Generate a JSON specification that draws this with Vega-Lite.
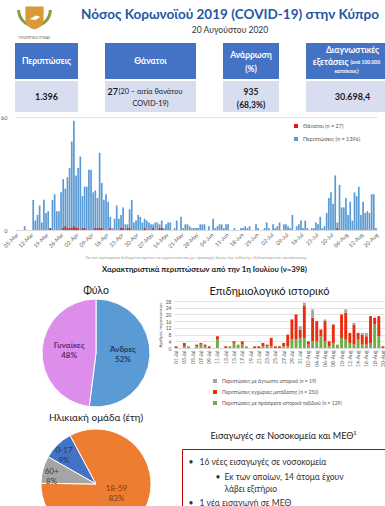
{
"$schema":"https://vega.github.io/schema/vega-lite/v6.json",
"padding":0,
"background":"white",
"config":{"view":{"stroke":null},"font":"Lato","axis":{"labelFont":"Lato","titleFont":"Lato"},"legend":{"labelFont":"Lato"},"title":{"font":"Lato"}},
"data":{"values":[{"k":1}]},
"datasets":{
"daily":[
{"d":"05-Mar","c":0},{"d":"06-Mar","c":0},{"d":"07-Mar","c":0},{"d":"08-Mar","c":0},{"d":"09-Mar","c":2},{"d":"10-Mar","c":0},{"d":"11-Mar","c":0},{"d":"12-Mar","c":0},{"d":"13-Mar","c":16},{"d":"14-Mar","c":5},{"d":"15-Mar","c":8},{"d":"16-Mar","c":13},{"d":"17-Mar","c":4},{"d":"18-Mar","c":16},{"d":"19-Mar","c":9},{"d":"20-Mar","c":10},{"d":"21-Mar","c":1,"t":1},{"d":"22-Mar","c":16},{"d":"23-Mar","c":19},{"d":"24-Mar","c":10},{"d":"25-Mar","c":10},{"d":"26-Mar","c":20},{"d":"27-Mar","c":27,"t":1},{"d":"28-Mar","c":22,"t":2},{"d":"29-Mar","c":28,"t":1},{"d":"30-Mar","c":33,"t":1},{"d":"31-Mar","c":47,"t":1},
{"d":"01-Apr","c":58,"t":2},{"d":"02-Apr","c":29,"t":1},{"d":"03-Apr","c":33,"t":1},{"d":"04-Apr","c":39},{"d":"05-Apr","c":18,"t":1},{"d":"06-Apr","c":23,"t":1},{"d":"07-Apr","c":23},{"d":"08-Apr","c":32},{"d":"09-Apr","c":32},{"d":"10-Apr","c":20},{"d":"11-Apr","c":21,"t":1},{"d":"12-Apr","c":17,"t":1},{"d":"13-Apr","c":41,"t":1},{"d":"14-Apr","c":25,"t":1},{"d":"15-Apr","c":16},{"d":"16-Apr","c":19},{"d":"17-Apr","c":15},{"d":"18-Apr","c":7,"t":1},{"d":"19-Apr","c":1},{"d":"20-Apr","c":6},{"d":"21-Apr","c":13},{"d":"22-Apr","c":6},{"d":"23-Apr","c":8,"t":1},{"d":"24-Apr","c":12,"t":1},{"d":"25-Apr","c":3},{"d":"26-Apr","c":3,"t":1},{"d":"27-Apr","c":11,"t":1},{"d":"28-Apr","c":16},{"d":"29-Apr","c":4},{"d":"30-Apr","c":5},
{"d":"01-May","c":8},{"d":"02-May","c":7},{"d":"03-May","c":4},{"d":"04-May","c":6,"t":1},{"d":"05-May","c":5},{"d":"06-May","c":4},{"d":"07-May","c":3},{"d":"08-May","c":3,"t":1},{"d":"09-May","c":4},{"d":"10-May","c":4},{"d":"11-May","c":3,"t":1},{"d":"12-May","c":5,"t":1},{"d":"13-May","c":1},{"d":"14-May","c":3},{"d":"15-May","c":4},{"d":"16-May","c":4},{"d":"17-May","c":0},{"d":"18-May","c":1},{"d":"19-May","c":5},{"d":"20-May","c":0},{"d":"21-May","c":7},{"d":"22-May","c":1},{"d":"23-May","c":3},{"d":"24-May","c":3},{"d":"25-May","c":2},{"d":"26-May","c":1},{"d":"27-May","c":1},{"d":"28-May","c":1},{"d":"29-May","c":1},{"d":"30-May","c":3},{"d":"31-May","c":3},
{"d":"01-Jun","c":3},{"d":"02-Jun","c":0},{"d":"03-Jun","c":2},{"d":"04-Jun","c":0},{"d":"05-Jun","c":6},{"d":"06-Jun","c":1},{"d":"07-Jun","c":2},{"d":"08-Jun","c":3},{"d":"09-Jun","c":3},{"d":"10-Jun","c":1},{"d":"11-Jun","c":3},{"d":"12-Jun","c":3},{"d":"13-Jun","c":0},{"d":"14-Jun","c":0},{"d":"15-Jun","c":1},{"d":"16-Jun","c":0},{"d":"17-Jun","c":0},{"d":"18-Jun","c":1},{"d":"19-Jun","c":1},{"d":"20-Jun","c":2},{"d":"21-Jun","c":1},{"d":"22-Jun","c":2},{"d":"23-Jun","c":0},{"d":"24-Jun","c":0},{"d":"25-Jun","c":3},{"d":"26-Jun","c":1},{"d":"27-Jun","c":0},{"d":"28-Jun","c":0},{"d":"29-Jun","c":1},{"d":"30-Jun","c":4},
{"d":"01-Jul","c":1},{"d":"02-Jul","c":0},{"d":"03-Jul","c":3},{"d":"04-Jul","c":1},{"d":"05-Jul","c":2},{"d":"06-Jul","c":4},{"d":"07-Jul","c":0},{"d":"08-Jul","c":3},{"d":"09-Jul","c":3},{"d":"10-Jul","c":2},{"d":"11-Jul","c":1},{"d":"12-Jul","c":8},{"d":"13-Jul","c":0},{"d":"14-Jul","c":2},{"d":"15-Jul","c":3},{"d":"16-Jul","c":5},{"d":"17-Jul","c":1},{"d":"18-Jul","c":5},{"d":"19-Jul","c":1},{"d":"20-Jul","c":0},{"d":"21-Jul","c":1},{"d":"22-Jul","c":1},{"d":"23-Jul","c":4},{"d":"24-Jul","c":3},{"d":"25-Jul","c":7},{"d":"26-Jul","c":1},{"d":"27-Jul","c":2},{"d":"28-Jul","c":9},{"d":"29-Jul","c":17},{"d":"30-Jul","c":20},{"d":"31-Jul","c":14},
{"d":"01-Aug","c":29},{"d":"02-Aug","c":4,"t":1},{"d":"03-Aug","c":24},{"d":"04-Aug","c":12},{"d":"05-Aug","c":12},{"d":"06-Aug","c":17},{"d":"07-Aug","c":8},{"d":"08-Aug","c":15},{"d":"09-Aug","c":5},{"d":"10-Aug","c":20},{"d":"11-Aug","c":18},{"d":"12-Aug","c":23},{"d":"13-Aug","c":8},{"d":"14-Aug","c":15},{"d":"15-Aug","c":9},{"d":"16-Aug","c":10},{"d":"17-Aug","c":9},{"d":"18-Aug","c":19},{"d":"19-Aug","c":19},{"d":"20-Aug","c":1}
],
"epi":[
{"d":"01-Jul","g":0,"r":1,"u":0},{"d":"02-Jul","g":0,"r":0,"u":0},{"d":"03-Jul","g":1,"r":2,"u":0},{"d":"04-Jul","g":1,"r":0,"u":0},{"d":"05-Jul","g":0,"r":0,"u":0},{"d":"06-Jul","g":1,"r":1,"u":0},{"d":"07-Jul","g":2,"r":1,"u":0},{"d":"08-Jul","g":1,"r":1,"u":0},{"d":"09-Jul","g":0,"r":1,"u":0},{"d":"10-Jul","g":0,"r":0,"u":0},
{"d":"11-Jul","g":5,"r":2,"u":0},{"d":"12-Jul","g":0,"r":0,"u":0},{"d":"13-Jul","g":0,"r":1,"u":0},{"d":"14-Jul","g":1,"r":0,"u":0},{"d":"15-Jul","g":3,"r":1,"u":0},{"d":"16-Jul","g":2,"r":0,"u":0},{"d":"17-Jul","g":2,"r":2,"u":0},{"d":"18-Jul","g":1,"r":0,"u":0},{"d":"19-Jul","g":0,"r":0,"u":0},{"d":"20-Jul","g":0,"r":1,"u":0},
{"d":"21-Jul","g":0,"r":1,"u":0},{"d":"22-Jul","g":1,"r":2,"u":0},{"d":"23-Jul","g":1,"r":1,"u":0},{"d":"24-Jul","g":1,"r":5,"u":0},{"d":"25-Jul","g":0,"r":1,"u":0},{"d":"26-Jul","g":0,"r":1,"u":0},{"d":"27-Jul","g":1,"r":2,"u":0},{"d":"28-Jul","g":1,"r":7,"u":0},{"d":"29-Jul","g":5,"r":12,"u":0},{"d":"30-Jul","g":5,"r":15,"u":0},
{"d":"31-Jul","g":6,"r":5,"u":2},{"d":"01-Aug","g":6,"r":19,"u":2},{"d":"02-Aug","g":2,"r":2,"u":0},{"d":"03-Aug","g":4,"r":14,"u":5},{"d":"04-Aug","g":4,"r":12,"u":0},{"d":"05-Aug","g":7,"r":4,"u":0},{"d":"06-Aug","g":4,"r":12,"u":1},{"d":"07-Aug","g":1,"r":3,"u":0},{"d":"08-Aug","g":3,"r":11,"u":0},{"d":"09-Aug","g":2,"r":0,"u":0},
{"d":"10-Aug","g":6,"r":14,"u":0},{"d":"11-Aug","g":5,"r":16,"u":2},{"d":"12-Aug","g":3,"r":6,"u":0},{"d":"13-Aug","g":2,"r":12,"u":1},{"d":"14-Aug","g":5,"r":4,"u":0},{"d":"15-Aug","g":2,"r":6,"u":1},{"d":"16-Aug","g":2,"r":5,"u":2},{"d":"17-Aug","g":3,"r":16,"u":0},{"d":"18-Aug","g":14,"r":4,"u":0},{"d":"19-Aug","g":7,"r":12,"u":0},
{"d":"20-Aug","g":0,"r":1,"u":0}
],
"sex":[{"g":"Άνδρες","p":52,"lab":"Άνδρες\n52%"},{"g":"Γυναίκες","p":48,"lab":"Γυναίκες\n48%"}],
"age":[{"g":"0-17","p":9,"lab":"0-17\n9%"},{"g":"18-59","p":83,"lab":"18-59\n83%"},{"g":"60+","p":8,"lab":"60+\n8%"}]
},
"spacing":3,
"resolve":{"scale":{"color":"independent"},"legend":{"color":"independent"}},
"vconcat":[
{"hconcat":[
 {"width":39,"height":36,
  "title":{"text":"ΥΠΟΥΡΓΕΙΟ ΥΓΕΙΑΣ","orient":"bottom","fontSize":3.5,"fontWeight":"normal","color":"#555555","offset":0},
  "layer":[
   {"mark":{"type":"point","shape":"M -1 -0.5 A 1 1 0 0 0 1 -0.5","filled":false,"stroke":"#8A9A3C","strokeWidth":3,"size":1000,"opacity":1},"encoding":{}},
   {"mark":{"type":"point","shape":"M -0.8 -1 L 0.8 -1 L 0.8 0.1 Q 0.8 0.8 0 1 Q -0.8 0.8 -0.8 0.1 Z","filled":true,"color":"#D99A3A","size":520,"opacity":1},"encoding":{}},
   {"mark":{"type":"point","shape":"M -0.8 0.2 L 0.2 -0.4 L 0.9 -0.2 L 0.2 0.3 Z","filled":true,"color":"white","size":160,"opacity":1},"encoding":{}}
  ]},
 {"width":344,"height":40,
  "layer":[
   {"mark":{"type":"text","text":"Νόσος Κορωνοϊού 2019 (COVID-19) στην Κύπρο","fontSize":13.5,"fontWeight":"bold","color":"#2157A5","dy":-5},"encoding":{}},
   {"mark":{"type":"text","text":"20 Αυγούστου 2020","fontSize":8.5,"color":"#333333","dy":10},"encoding":{}}
  ]}
],"spacing":1},
{"hconcat":[
 {"vconcat":[
  {"width":63,"height":36,"view":{"fill":"#4472C4","stroke":null},"mark":{"type":"text","text":"Περιπτώσεις","color":"white","fontWeight":"bold","fontSize":8.5},"encoding":{}},
  {"width":63,"height":31,"view":{"fill":"#D9DDF0","stroke":null},"mark":{"type":"text","text":"1.396","color":"#1a1a1a","fontWeight":"bold","fontSize":9},"encoding":{}}
 ],"spacing":2},
 {"vconcat":[
  {"width":91,"height":36,"view":{"fill":"#4472C4","stroke":null},"mark":{"type":"text","text":"Θάνατοι","color":"white","fontWeight":"bold","fontSize":8.5},"encoding":{}},
  {"width":91,"height":31,"view":{"fill":"#D9DDF0","stroke":null},"layer":[
   {"mark":{"type":"text","text":"27","color":"#1a1a1a","fontWeight":"bold","fontSize":9,"align":"left","dx":-43,"dy":-4.5},"encoding":{}},
   {"mark":{"type":"text","text":"(20 – αιτία θανάτου","color":"#1a1a1a","fontSize":7.3,"align":"left","dx":-32,"dy":-4.5},"encoding":{}},
   {"mark":{"type":"text","text":"COVID-19)","color":"#1a1a1a","fontSize":7.3,"dy":7},"encoding":{}}
  ]}
 ],"spacing":2},
 {"vconcat":[
  {"width":56,"height":36,"view":{"fill":"#4472C4","stroke":null},"layer":[
   {"mark":{"type":"text","text":"Ανάρρωση","color":"white","fontWeight":"bold","fontSize":8.5,"dy":-6},"encoding":{}},
   {"mark":{"type":"text","text":"(%)","color":"white","fontWeight":"bold","fontSize":8.5,"dy":7.5},"encoding":{}}
  ]},
  {"width":56,"height":31,"view":{"fill":"#D9DDF0","stroke":null},"layer":[
   {"mark":{"type":"text","text":"935","color":"#1a1a1a","fontWeight":"bold","fontSize":8.5,"dy":-5},"encoding":{}},
   {"mark":{"type":"text","text":"(68,3%)","color":"#1a1a1a","fontWeight":"bold","fontSize":8.5,"dy":8.5},"encoding":{}}
  ]}
 ],"spacing":2},
 {"vconcat":[
  {"width":93,"height":36,"view":{"fill":"#4472C4","stroke":null},"layer":[
   {"mark":{"type":"text","text":"Διαγνωστικές","color":"white","fontWeight":"bold","fontSize":8.5,"dy":-11},"encoding":{}},
   {"mark":{"type":"text","text":"εξετάσεις","color":"white","fontWeight":"bold","fontSize":8.5,"align":"right","dx":-4,"dy":1},"encoding":{}},
   {"mark":{"type":"text","text":"(ανά 100.000","color":"white","fontWeight":"bold","fontSize":5,"align":"left","dx":-2,"dy":1},"encoding":{}},
   {"mark":{"type":"text","text":"κατοίκους)","color":"white","fontWeight":"bold","fontSize":5,"dx":-6,"dy":10},"encoding":{}}
  ]},
  {"width":93,"height":31,"view":{"fill":"#D9DDF0","stroke":null},"mark":{"type":"text","text":"30.698,4","color":"#1a1a1a","fontWeight":"bold","fontSize":9},"encoding":{}}
 ],"spacing":2}
],"spacing":27},
{"width":362,"height":113,
 "data":{"name":"daily"},
 "title":{"text":"Τα πιο πρόσφατα δεδομένα πρέπει να ερμηνεύονται με προσοχή λόγω της πιθανής εξελισσόμενης κατάστασης","orient":"bottom","fontSize":4.5,"fontWeight":"normal","color":"#A0A0A0","offset":6,"anchor":"middle"},
 "encoding":{"x":{"field":"d","type":"ordinal","sort":null,"scale":{"paddingInner":0.2,"paddingOuter":0.1},
   "axis":{"values":["05-Mar","12-Mar","19-Mar","26-Mar","02-Apr","09-Apr","16-Apr","23-Apr","30-Apr","07-May","14-May","21-May","28-May","04-Jun","11-Jun","18-Jun","25-Jun","02-Jul","09-Jul","16-Jul","23-Jul","30-Jul","06-Aug","13-Aug","20-Aug"],
   "labelAngle":-45,"labelFontSize":5.5,"labelColor":"#595959","domainColor":"#D9D9D9","ticks":false,"title":null,"labelPadding":2}}},
 "layer":[
  {"mark":{"type":"bar"},
   "encoding":{"y":{"field":"c","type":"quantitative","scale":{"domain":[0,60]},
      "axis":{"values":[0,10,20,30,40,50,60],"gridColor":"#E4E4E4","domain":false,"ticks":false,"labelFontSize":5.5,"labelColor":"#595959","title":null,"labelPadding":8}},
    "color":{"datum":"Περιπτώσεις (n = 1396)","scale":{"domain":["Θάνατοι (n = 27)","Περιπτώσεις (n = 1396)"],"range":["#E01818","#5B9BD5"]},
      "legend":{"orient":"none","legendX":278,"legendY":6,"title":null,"symbolType":"square","symbolSize":16,"labelFontSize":5.5,"labelColor":"#595959","rowPadding":6}}}},
  {"mark":{"type":"bar"},
   "encoding":{"y":{"field":"t","type":"quantitative"},"color":{"datum":"Θάνατοι (n = 27)"}}}
 ]},
{"width":385,"height":19,"mark":{"type":"text","text":"Χαρακτηριστικά περιπτώσεων από την 1η Ιουλίου (ν=398)","fontSize":7.8,"fontWeight":"bold","color":"#1a1a1a","dx":-3,"dy":-2.5},"encoding":{}},
{"spacing":1,
 "resolve":{"scale":{"color":"independent"},"legend":{"color":"independent"}},
 "hconcat":[
  {"width":20,"height":1,"mark":{"type":"rect","opacity":0},"encoding":{}},
  {"vconcat":[
    {"width":120,"height":104,"data":{"name":"sex"},
     "title":{"text":"Φύλο","fontSize":10.5,"fontWeight":"normal","color":"#1a1a1a","offset":1},
     "layer":[
      {"mark":{"type":"arc","outerRadius":54,"stroke":"white","strokeWidth":1},
       "encoding":{"theta":{"field":"p","type":"quantitative","stack":true},"order":{"field":"p","sort":"descending"},
        "color":{"field":"g","type":"nominal","scale":{"domain":["Άνδρες","Γυναίκες"],"range":["#5B9BD5","#DD8EEB"]},"legend":null}}},
      {"mark":{"type":"text","radius":27,"fontWeight":"bold","fontSize":8,"lineBreak":"\n","dy":-5},
       "encoding":{"theta":{"field":"p","type":"quantitative","stack":true},"order":{"field":"p","sort":"descending"},"text":{"field":"lab"},
        "color":{"field":"g","type":"nominal","scale":{"domain":["Άνδρες","Γυναίκες"],"range":["#1F3864","#5E2A6B"]},"legend":null}}}
     ],
     "resolve":{"scale":{"color":"independent"}}},
    {"width":120,"height":120,"data":{"name":"age"},
     "title":{"text":"Ηλικιακή ομάδα (έτη)","fontSize":10,"fontWeight":"normal","color":"#1a1a1a","offset":1},
     "layer":[
      {"mark":{"type":"arc","outerRadius":55,"stroke":"white","strokeWidth":1},
       "encoding":{"theta":{"field":"p","type":"quantitative","stack":true,"scale":{"range":[-1.557,4.726]}},"order":{"field":"p","sort":"ascending"},
        "color":{"field":"g","type":"nominal","scale":{"domain":["0-17","18-59","60+"],"range":["#4472C4","#ED7D31","#A5A5A5"]},"legend":null}}},
      {"mark":{"type":"text","radius":{"expr":"datum.g == '18-59' ? 24 : 46"},"dy":{"expr":"datum.g == '18-59' ? -7 : 0"},"fontSize":8,"lineBreak":"\n"},
       "encoding":{"theta":{"field":"p","type":"quantitative","stack":true},"order":{"field":"p","sort":"ascending"},"text":{"field":"lab"},
        "color":{"field":"g","type":"nominal","scale":{"domain":["0-17","18-59","60+"],"range":["#1F3864","#7F3A10","#3A3A3A"]},"legend":null}}}
     ],
     "resolve":{"scale":{"color":"independent"}}}
  ],"spacing":4},
  {"vconcat":[
    {"width":211,"height":47,"data":{"name":"epi"},
     "title":{"text":"Επιδημιολογικό ιστορικό","fontSize":11,"fontWeight":"normal","color":"#1a1a1a","offset":2,"dx":-10},
     "transform":[{"fold":["g","r","u"],"as":["s","n"]}],
     "mark":{"type":"bar"},
     "encoding":{
      "x":{"field":"d","type":"ordinal","sort":null,"scale":{"paddingInner":0.3,"paddingOuter":0.15},
        "axis":{"values":["01-Jul","03-Jul","05-Jul","07-Jul","09-Jul","11-Jul","13-Jul","15-Jul","17-Jul","19-Jul","21-Jul","23-Jul","25-Jul","27-Jul","29-Jul","31-Jul","02-Aug","04-Aug","06-Aug","08-Aug","10-Aug","12-Aug","14-Aug","16-Aug","18-Aug","20-Aug"],
        "labelAngle":-90,"labelFontSize":5,"labelColor":"#595959","domainColor":"#D9D9D9","ticks":false,"title":null,"labelPadding":2}},
      "y":{"field":"n","type":"quantitative","stack":true,"scale":{"domain":[0,28]},
        "axis":{"values":[0,4,8,12,16,20,24,28],"gridColor":"#E4E4E4","domain":false,"ticks":false,"labelFontSize":5,"labelColor":"#595959","title":"Αριθμός περιπτώσεων","titleFontSize":4.5,"titleFontWeight":"normal","titleColor":"#595959","titlePadding":3,"labelPadding":3}},
      "order":{"field":"s","sort":"ascending"},
      "color":{"field":"s","type":"nominal","scale":{"domain":["u","r","g"],"range":["#A5A5A5","#EE2A0C","#70AD47"]},
        "legend":{"orient":"none","legendX":38,"legendY":77,"direction":"vertical","title":null,"symbolType":"square","symbolSize":16,"labelFontSize":5,"labelColor":"#595959","rowPadding":5,
          "labelExpr":"datum.value == 'u' ? 'Περιπτώσεις με άγνωστο ιστορικό (n = 19)' : datum.value == 'r' ? 'Περιπτώσεις εγχώριας μετάδοσης (n = 250)' : 'Περιπτώσεις με πρόσφατο ιστορικό ταξιδιού (n = 129)'"}}}},
    {"hconcat":[
      {"width":6,"height":1,"mark":{"type":"rect","opacity":0},"encoding":{}},
      {"width":203,"height":62,"view":{"stroke":"#C00000","strokeWidth":1,"fill":"white"},
       "title":{"text":"Εισαγωγές σε Νοσοκομεία και ΜΕΘ¹","fontSize":9,"fontWeight":"normal","color":"#1a1a1a","offset":8},
       "layer":[
        {"mark":{"type":"text","text":"•","fontSize":8.5,"color":"#333333","align":"left","dx":-95,"dy":-18},"encoding":{}},
        {"mark":{"type":"text","text":"16 νέες εισαγωγές σε νοσοκομεία","fontSize":8.5,"color":"#333333","align":"left","dx":-84,"dy":-18},"encoding":{}},
        {"mark":{"type":"text","text":"•","fontSize":8.5,"color":"#333333","align":"left","dx":-68,"dy":-3},"encoding":{}},
        {"mark":{"type":"text","text":"Εκ των οποίων, 14 άτομα έχουν","fontSize":8.5,"color":"#333333","align":"left","dx":-59,"dy":-3},"encoding":{}},
        {"mark":{"type":"text","text":"λάβει εξιτήριο","fontSize":8.5,"color":"#333333","align":"left","dx":-59,"dy":9},"encoding":{}},
        {"mark":{"type":"text","text":"•","fontSize":8.5,"color":"#333333","align":"left","dx":-95,"dy":23},"encoding":{}},
        {"mark":{"type":"text","text":"1 νέα εισαγωγή σε ΜΕΘ","fontSize":8.5,"color":"#333333","align":"left","dx":-84,"dy":23},"encoding":{}}
       ]}
    ],"spacing":1}
  ],"spacing":64}
 ]}
]
}
